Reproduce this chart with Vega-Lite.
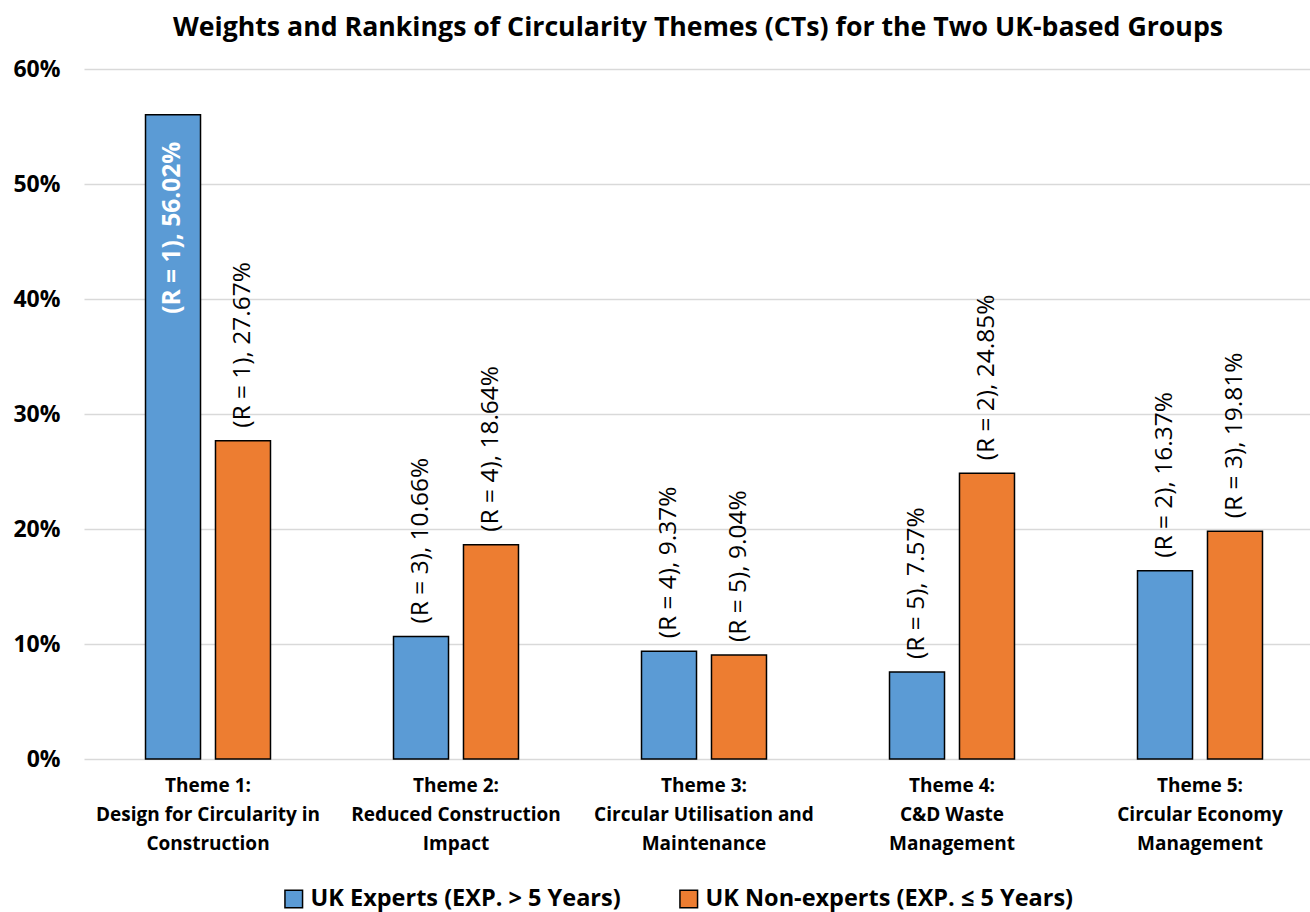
{
  "$schema": "https://vega.github.io/schema/vega-lite/v6.json",
  "width": 1204,
  "height": 690,
  "autosize": {"type": "none"},
  "padding": {"left": 86, "top": 69, "right": 20, "bottom": 153},
  "background": "white",
  "title": {
    "text": "Weights and Rankings of Circularity Themes (CTs) for the Two UK-based Groups",
    "font": "Open Sans",
    "fontSize": 26.7,
    "fontWeight": "bold",
    "color": "black",
    "anchor": "middle",
    "dx": 10,
    "offset": 16
  },
  "data": {
    "values": [
      {"theme": "Theme 1:|Design for Circularity in|Construction", "group": "UK Experts (EXP. > 5 Years)", "value": 56.02, "label": "(R = 1), 56.02%", "inside": true},
      {"theme": "Theme 1:|Design for Circularity in|Construction", "group": "UK Non-experts (EXP. ≤ 5 Years)", "value": 27.67, "label": "(R = 1), 27.67%", "inside": false},
      {"theme": "Theme 2:|Reduced Construction|Impact", "group": "UK Experts (EXP. > 5 Years)", "value": 10.66, "label": "(R = 3), 10.66%", "inside": false},
      {"theme": "Theme 2:|Reduced Construction|Impact", "group": "UK Non-experts (EXP. ≤ 5 Years)", "value": 18.64, "label": "(R = 4), 18.64%", "inside": false},
      {"theme": "Theme 3:|Circular Utilisation and|Maintenance", "group": "UK Experts (EXP. > 5 Years)", "value": 9.37, "label": "(R = 4), 9.37%", "inside": false},
      {"theme": "Theme 3:|Circular Utilisation and|Maintenance", "group": "UK Non-experts (EXP. ≤ 5 Years)", "value": 9.04, "label": "(R = 5), 9.04%", "inside": false},
      {"theme": "Theme 4:|C&D Waste|Management", "group": "UK Experts (EXP. > 5 Years)", "value": 7.57, "label": "(R = 5), 7.57%", "inside": false},
      {"theme": "Theme 4:|C&D Waste|Management", "group": "UK Non-experts (EXP. ≤ 5 Years)", "value": 24.85, "label": "(R = 2), 24.85%", "inside": false},
      {"theme": "Theme 5:|Circular Economy|Management", "group": "UK Experts (EXP. > 5 Years)", "value": 16.37, "label": "(R = 2), 16.37%", "inside": false},
      {"theme": "Theme 5:|Circular Economy|Management", "group": "UK Non-experts (EXP. ≤ 5 Years)", "value": 19.81, "label": "(R = 3), 19.81%", "inside": false}
    ]
  },
  "encoding": {
    "x": {
      "field": "theme",
      "type": "nominal",
      "sort": null,
      "scale": {"range": [-2, 1238], "paddingInner": 0, "paddingOuter": 0},
      "axis": {
        "title": null,
        "labelAngle": 0,
        "labelExpr": "split(datum.label, '|')",
        "labelFont": "Open Sans",
        "labelFontSize": 19,
        "labelFontWeight": "bold",
        "labelColor": "black",
        "labelLineHeight": 29,
        "labelPadding": 17,
        "labelBaseline": "top",
        "labelLimit": 300,
        "labelOverlap": false,
        "domain": false,
        "ticks": false,
        "grid": false
      }
    },
    "xOffset": {
      "field": "group",
      "type": "nominal",
      "sort": null,
      "scale": {"paddingInner": 0.214, "paddingOuter": 0.879}
    },
    "y": {
      "field": "value",
      "type": "quantitative",
      "scale": {"domain": [0, 60], "nice": false},
      "axis": {
        "title": null,
        "values": [0, 10, 20, 30, 40, 50, 60],
        "labelExpr": "datum.value + '%'",
        "labelFont": "Open Sans",
        "labelFontSize": 23,
        "labelFontWeight": "bold",
        "labelColor": "black",
        "labelPadding": 26,
        "domain": false,
        "ticks": false,
        "grid": true,
        "gridColor": "#d9d9d9",
        "gridWidth": 1.5
      }
    }
  },
  "layer": [
    {
      "mark": {"type": "bar", "stroke": "black", "strokeWidth": 1.5},
      "encoding": {
        "color": {
          "field": "group",
          "type": "nominal",
          "sort": null,
          "scale": {
            "domain": ["UK Experts (EXP. > 5 Years)", "UK Non-experts (EXP. ≤ 5 Years)"],
            "range": ["#5B9BD5", "#ED7D31"]
          },
          "legend": {
            "title": null,
            "orient": "none",
            "direction": "horizontal",
            "legendX": 196,
            "legendY": 818,
            "padding": 0,
            "symbolType": "square",
            "symbolSize": 310,
            "symbolStrokeColor": "black",
            "symbolStrokeWidth": 1.5,
            "symbolOpacity": 1,
            "labelFont": "Open Sans",
            "labelFontSize": 23.5,
            "labelFontWeight": "bold",
            "labelColor": "black",
            "labelLimit": 450,
            "columnPadding": 55,
            "labelOffset": 5
          }
        }
      }
    },
    {
      "transform": [{"filter": "!datum.inside"}],
      "mark": {
        "type": "text",
        "angle": -90,
        "align": "left",
        "baseline": "middle",
        "dx": 13,
        "font": "Open Sans",
        "fontSize": 24.5,
        "color": "black"
      },
      "encoding": {"text": {"field": "label"}}
    },
    {
      "transform": [{"filter": "datum.inside"}],
      "mark": {
        "type": "text",
        "angle": -90,
        "align": "right",
        "baseline": "middle",
        "dx": -27,
        "font": "Open Sans",
        "fontSize": 24.5,
        "fontWeight": "bold",
        "color": "white"
      },
      "encoding": {"text": {"field": "label"}}
    }
  ],
  "config": {"view": {"stroke": null}}
}
